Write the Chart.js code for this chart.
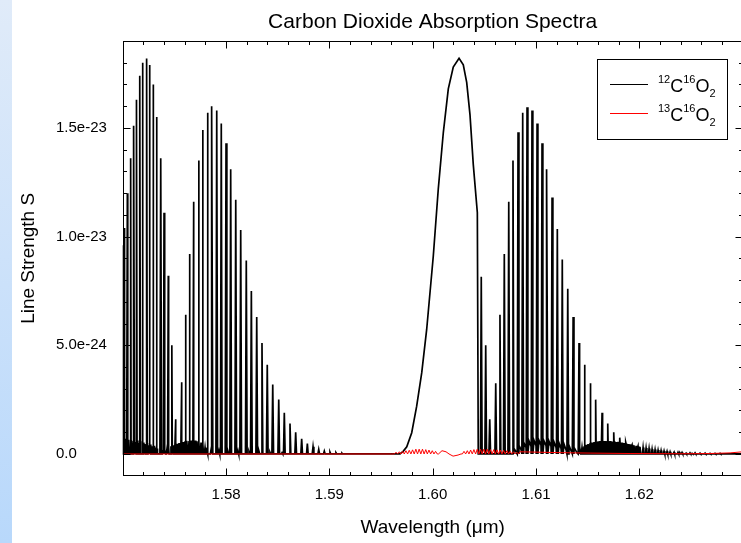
<!DOCTYPE html>
<html>
<head>
<meta charset="utf-8">
<script src="https://cdn.jsdelivr.net/npm/chart.js@4.4.1/dist/chart.umd.min.js"></script>
<style>
  html, body { margin: 0; padding: 0; background: #fff; overflow: hidden; }
  #strip { position: absolute; left: 0; top: 0; width: 12px; height: 543px; background: linear-gradient(#e0ebf9, #b8d8fb); }
  #wrap { position: absolute; left: 0; top: 0; width: 745px; height: 543px; }
</style>
</head>
<body>
<div id="strip"></div>
<div id="wrap"><canvas id="chart" width="745" height="543"></canvas></div>
<script>
// wavelengths in um, strengths in units of 1e-24
const strongWl = [1.57002, 1.57013, 1.57045, 1.57080, 1.57109, 1.57138, 1.57167, 1.57196, 1.57232, 1.57264, 1.57296, 1.57329, 1.57368, 1.57400, 1.57441, 1.57477, 1.57513,
  1.57571, 1.57610, 1.57648, 1.57687, 1.57736, 1.57774, 1.57823, 1.57864, 1.57910, 1.57954, 1.58000, 1.58045, 1.58094, 1.58142, 1.58196, 1.58245, 1.58297, 1.58348, 1.58399, 1.58452, 1.58510, 1.58564, 1.58619, 1.58674, 1.58732, 1.58787, 1.58842, 1.58897, 1.58951, 1.59006, 1.59064, 1.59122,
  1.60470, 1.60513, 1.60552,
  1.60610, 1.60651, 1.60693, 1.60736, 1.60777, 1.60826, 1.60871, 1.60913, 1.60961, 1.61010, 1.61058, 1.61106, 1.61155, 1.61206, 1.61254, 1.61307, 1.61359, 1.61416, 1.61471, 1.61525, 1.61580, 1.61639, 1.61694, 1.61752, 1.61810, 1.61868, 1.61926, 1.61984, 1.62042, 1.62100, 1.62158, 1.62216, 1.62274, 1.62332, 1.62393, 1.62452, 1.62510];
const strongS = [9.6, 10.4, 12.0, 13.6, 15.1, 16.3, 17.4, 18.0, 18.2, 17.9, 17.0, 15.5, 13.6, 11.1, 8.2, 5.0, 1.6,
  3.3, 6.4, 9.2, 11.6, 13.5, 14.9, 15.7, 16.0, 15.8, 15.2, 14.3, 13.1, 11.7, 10.3, 8.9, 7.5, 6.3, 5.1, 4.1, 3.2, 2.5, 1.9, 1.4, 1.0, 0.7, 0.48, 0.33, 0.21, 0.13, 0.09, 0.06, 0.04,
  8.15, 5.0, 1.6,
  3.25, 6.4, 9.2, 11.6, 13.5, 14.8, 15.7, 15.95, 15.8, 15.2, 14.3, 13.1, 11.8, 10.35, 8.95, 7.6, 6.3, 5.1, 4.1, 3.25, 2.5, 1.9, 1.4, 1.0, 0.75, 0.54, 0.39, 0.3, 0.24, 0.18, 0.14, 0.1, 0.08, 0.06, 0.05, 0.04, 0.03];

// unresolved band near 1.60 um
const humpWl = [1.59684, 1.59716, 1.59749, 1.59797, 1.59845, 1.59894, 1.59942, 1.60006, 1.60054, 1.60103, 1.60151, 1.60199, 1.60255, 1.60296, 1.60329, 1.60361, 1.60393, 1.60432, 1.60441];
const humpS = [0.0, 0.13, 0.33, 0.98, 2.2, 3.74, 5.74, 9.12, 12.19, 14.8, 16.8, 17.8, 18.2, 17.9, 17.1, 15.6, 13.3, 11.1, 0.0];

// weak hot-band lines
const weakWl = [1.57008, 1.57024, 1.57041, 1.57057, 1.57074, 1.57090, 1.57107, 1.57123, 1.57139, 1.57156, 1.57172, 1.57189, 1.57205, 1.57222, 1.57238, 1.57255, 1.57271, 1.57287, 1.57304, 1.57320, 1.57337,
  1.57390, 1.57409, 1.57429, 1.57448, 1.57467, 1.57487, 1.57506, 1.57526, 1.57545, 1.57564, 1.57584, 1.57603, 1.57622, 1.57642, 1.57661, 1.57680, 1.57700, 1.57719, 1.57738, 1.57758, 1.57777, 1.57797, 1.57816,
  1.57855, 1.57932, 1.58019, 1.58116, 1.58222, 1.58319, 1.58425, 1.58542,
  1.61426, 1.61445, 1.61465, 1.61484, 1.61503, 1.61523, 1.61542, 1.61561, 1.61581, 1.61600, 1.61619, 1.61639, 1.61658, 1.61677, 1.61697, 1.61716, 1.61736, 1.61755, 1.61774, 1.61794, 1.61813, 1.61832, 1.61852, 1.61871, 1.61890, 1.61910, 1.61929, 1.61948, 1.61968, 1.61987, 1.62006, 1.62036, 1.62065, 1.62094, 1.62123, 1.62152, 1.62181, 1.62210, 1.62239, 1.62268, 1.62297, 1.62336, 1.62374, 1.62413, 1.62452, 1.62490, 1.62539, 1.62587, 1.62636, 1.62684, 1.62732, 1.62781];
const weakS = [0.75, 0.7, 0.78, 0.65, 0.72, 0.6, 0.68, 0.55, 0.62, 0.5, 0.58, 0.48, 0.52, 0.45, 0.5, 0.4, 0.44, 0.36, 0.38, 0.3, 0.25,
  0.12, 0.2, 0.25, 0.3, 0.35, 0.4, 0.42, 0.47, 0.5, 0.52, 0.55, 0.58, 0.6, 0.6, 0.62, 0.6, 0.62, 0.58, 0.55, 0.52, 0.45, 0.3, 0.15,
  0.2, 0.15, 0.12, 0.15, 0.1, 0.12, 0.08, 0.06,
  0.2, 0.3, 0.35, 0.42, 0.45, 0.5, 0.52, 0.55, 0.55, 0.58, 0.6, 0.58, 0.6, 0.6, 0.58, 0.6, 0.57, 0.58, 0.55, 0.56, 0.53, 0.52, 0.5, 0.48, 0.46, 0.44, 0.42, 0.4, 0.38, 0.35, 0.33, 0.3, 0.27, 0.25, 0.22, 0.2, 0.18, 0.16, 0.14, 0.12, 0.1, 0.09, 0.08, 0.07, 0.06, 0.05, 0.05, 0.04, 0.04, 0.03, 0.03, 0.03];

// zigzag of weak lines under the 1.61 um branch
const zigWl = [1.60758, 1.60787, 1.60806, 1.60835, 1.60855, 1.60884, 1.60903, 1.60932, 1.60952, 1.60981, 1.61000, 1.61029, 1.61048, 1.61077, 1.61097, 1.61126, 1.61145, 1.61174, 1.61194, 1.61223, 1.61242, 1.61271, 1.61290, 1.61319, 1.61339, 1.61368, 1.61397];
const zigS = [0.0, 0.25, 0.1, 0.4, 0.2, 0.5, 0.3, 0.6, 0.35, 0.62, 0.38, 0.62, 0.4, 0.6, 0.38, 0.58, 0.35, 0.55, 0.3, 0.5, 0.25, 0.45, 0.2, 0.4, 0.15, 0.3, 0.05];

// 13C16O2
const c13TeethWl = [1.59645, 1.59677, 1.59709, 1.59741, 1.59773, 1.59805, 1.59837, 1.59869, 1.59901, 1.59933, 1.59964, 1.59996, 1.60028,
  1.60303, 1.60335, 1.60367, 1.60399, 1.60431, 1.60463, 1.60495, 1.60527, 1.60559, 1.60591, 1.60622, 1.60654, 1.60686, 1.60718, 1.60750, 1.60782, 1.60814];
const c13TeethS = [0.08, 0.1, 0.12, 0.15, 0.17, 0.19, 0.22, 0.22, 0.22, 0.2, 0.18, 0.15, 0.12,
  0.12, 0.15, 0.18, 0.2, 0.22, 0.22, 0.22, 0.22, 0.2, 0.2, 0.19, 0.18, 0.16, 0.15, 0.12, 0.1, 0.08];
const c13CurveWl = [1.57000, 1.59600, 1.60056, 1.60090, 1.60129, 1.60158, 1.60197, 1.60245, 1.60274, 1.60845, 1.61039, 1.61232, 1.61523, 1.61910, 1.62394, 1.62684, 1.62878, 1.63000];
const c13CurveS = [0.0, 0.0, 0.0, 0.15, 0.1, 0.0, -0.1, -0.05, 0.0, 0.1, 0.08, 0.06, 0.04, 0.02, 0.01, 0.02, 0.05, 0.1];

const xMin = 1.57, xMax = 1.63;
const yMin = -1e-24, yMax = 1.9e-23;
const xTicks = [1.58, 1.59, 1.60, 1.61, 1.62];
const yTicks = [0, 5e-24, 1e-23, 1.5e-23];
const yTickLabels = ['0.0', '5.0e-24', '1.0e-23', '1.5e-23'];
const seriesLabels = ['12C16O2', '13C16O2'];
const fontFam = '"Liberation Sans", Arial, sans-serif';

function spikes(wl, s, half) {
    const pts = [];
    for (let i = 0; i < wl.length; i++) {
        pts.push({x: wl[i] - half, y: 0});
        pts.push({x: wl[i], y: s[i] * 1e-24});
        pts.push({x: wl[i] + half, y: 0});
    }
    return pts;
}
function curve(wl, s) {
    return wl.map((w, i) => ({x: w, y: s[i] * 1e-24}));
}
const byX = (a, b) => a.x - b.x;

const blackData = [{x: xMin, y: 0}, {x: xMax, y: 0}]
    .concat(spikes(strongWl, strongS, 0.00008))
    .concat(spikes(weakWl, weakS, 0.00007))
    .concat(curve(humpWl, humpS))
    .concat(curve(zigWl, zigS))
    .sort(byX);
const redData = spikes(c13TeethWl, c13TeethS, 0.00016)
    .concat(curve(c13CurveWl, c13CurveS))
    .sort(byX);

// box round the plot with inward ticks on all four sides
const framePlugin = {
    id: 'frame',
    afterDatasetsDraw(chart) {
        const {ctx, chartArea: a, scales: {x, y}} = chart;
        const L = Math.round(a.left) + 0.5, R = Math.round(a.right) - 0.5;
        const T = Math.round(a.top) + 0.5, B = Math.round(a.bottom) - 0.5;
        ctx.save();
        ctx.strokeStyle = '#000';
        ctx.lineWidth = 1;
        ctx.strokeRect(L, T, R - L, B - T);
        ctx.beginPath();
        for (let k = 1; k < 30; k++) {
            const v = xMin + k * 0.002;
            const major = xTicks.some(t => Math.abs(t - v) < 1e-9);
            const len = major ? 7 : 3.5;
            const px = Math.round(x.getPixelForValue(v)) + 0.5;
            ctx.moveTo(px, B); ctx.lineTo(px, B - len);
            ctx.moveTo(px, T); ctx.lineTo(px, T + len);
        }
        for (let k = 0; k < 20; k++) {
            const v = k * 1e-24;
            const major = k % 5 === 0;
            const len = major ? 7 : 3.5;
            const py = Math.round(y.getPixelForValue(v)) + 0.5;
            ctx.moveTo(L, py); ctx.lineTo(L + len, py);
            ctx.moveTo(R, py); ctx.lineTo(R - len, py);
        }
        ctx.stroke();
        ctx.restore();
    }
};

const legendPlugin = {
    id: 'isoLegend',
    afterDraw(chart) {
        const ctx = chart.ctx;
        const bx = 597.5, by = 59.5, bw = 130, bh = 80;
        ctx.save();
        ctx.fillStyle = '#fff';
        ctx.fillRect(bx, by, bw, bh);
        ctx.strokeStyle = '#000';
        ctx.lineWidth = 1;
        ctx.strokeRect(bx, by, bw, bh);
        chart.data.datasets.forEach((ds, i) => {
            const ly = 84.5 + i * 29;
            ctx.strokeStyle = ds.borderColor;
            ctx.beginPath();
            ctx.moveTo(610, ly); ctx.lineTo(648, ly);
            ctx.stroke();
            const m = ds.label.match(/^(\d+)([A-Z])(\d+)([A-Z])(\d+)$/);
            const base = 92 + i * 29;
            let tx = 658;
            ctx.fillStyle = '#000';
            ctx.textBaseline = 'alphabetic';
            const part = (txt, size, dy) => {
                ctx.font = size + 'px ' + fontFam;
                ctx.fillText(txt, tx, base + dy);
                tx += ctx.measureText(txt).width;
            };
            part(m[1], 11, -9);
            part(m[2], 18, 0);
            part(m[3], 11, -9);
            part(m[4], 18, 0);
            part(m[5], 11, 4.5);
        });
        ctx.restore();
    }
};

const ctx = document.getElementById('chart').getContext('2d');
const chart = new Chart(ctx, {
    type: 'line',
    data: {
        datasets: [{
            label: seriesLabels[0],
            data: blackData,
            borderColor: '#000000',
            borderWidth: 1.7,
            pointRadius: 0,
            tension: 0,
            order: 1
        }, {
            label: seriesLabels[1],
            data: redData,
            borderColor: '#ff0000',
            borderWidth: 1,
            pointRadius: 0,
            tension: 0,
            order: 0
        }]
    },
    options: {
        responsive: false,
        animation: false,
        events: [],
        layout: { padding: { left: 56, right: 2.3, top: 0, bottom: 0 } },
        plugins: {
            legend: { display: false },
            tooltip: { enabled: false },
            title: {
                display: true,
                fullSize: false,
                text: 'Carbon Dioxide Absorption Spectra',
                color: '#000',
                font: { family: fontFam, size: 21, weight: 'normal' },
                padding: { top: 9.4, bottom: 6.4 }
            }
        },
        scales: {
            x: {
                type: 'linear',
                min: xMin,
                max: xMax,
                afterBuildTicks: s => { s.ticks = xTicks.map(v => ({value: v})); },
                afterFit: s => { s.height = 67.3; },
                grid: { display: false, drawTicks: false },
                border: { display: false },
                ticks: {
                    color: '#000',
                    font: { family: fontFam, size: 15 },
                    padding: 10,
                    maxRotation: 0,
                    autoSkip: false,
                    callback: v => v.toFixed(2)
                },
                title: {
                    display: true,
                    text: 'Wavelength (μm)',
                    color: '#000',
                    font: { family: fontFam, size: 19 },
                    padding: { top: 0, bottom: 3.6 }
                }
            },
            y: {
                min: yMin,
                max: yMax,
                afterBuildTicks: s => { s.ticks = yTicks.map(v => ({value: v})); },
                afterFit: s => { s.width = 66.7; },
                grid: { display: false, drawTicks: false },
                border: { display: false },
                ticks: {
                    color: '#000',
                    font: { family: fontFam, size: 15 },
                    padding: 19,
                    crossAlign: 'far',
                    autoSkip: false,
                    callback: (v, i) => yTickLabels[i]
                },
                title: {
                    display: true,
                    text: 'Line Strength S',
                    color: '#000',
                    font: { family: fontFam, size: 19 },
                    padding: { top: -38.7, bottom: 0 }
                }
            }
        }
    },
    plugins: [framePlugin, legendPlugin]
});
</script>
</body>
</html>
